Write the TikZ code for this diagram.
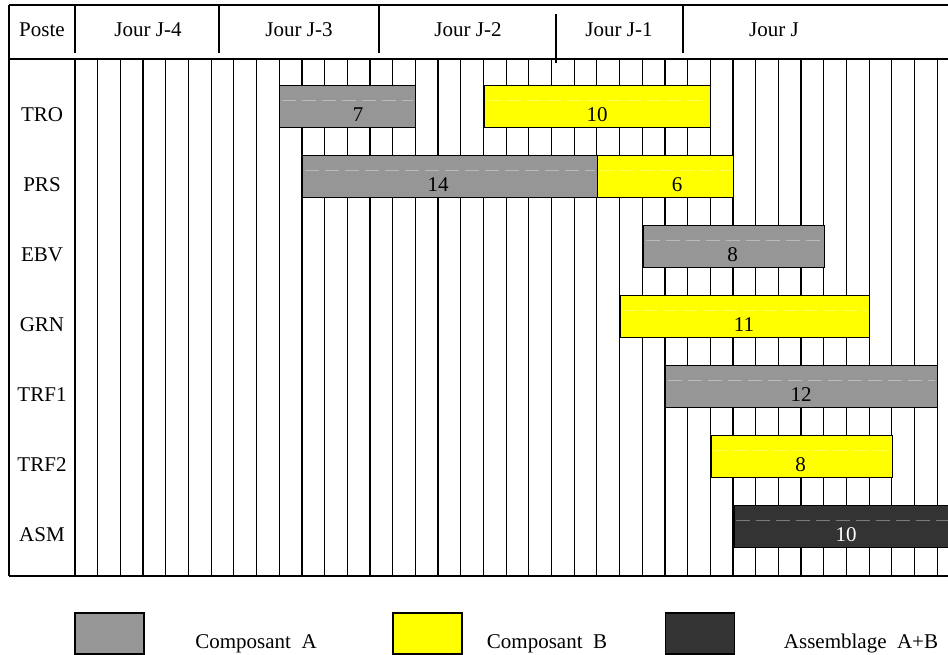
\documentclass[tikz,border=0pt]{standalone}
\usepackage{fontspec}
\setmainfont{Liberation Serif}
\definecolor{compA}{RGB}{150,150,150}
\definecolor{compB}{RGB}{255,255,0}
\definecolor{asmAB}{RGB}{51,51,51}
\begin{document}
\begin{tikzpicture}[x=1pt,y=-1pt,
  font=\fontsize{21}{25}\selectfont,
  rule/.style={line width=1.2pt, black},
  bar/.style={draw=black, line width=1.2pt, minimum height=42pt, inner sep=0pt, anchor=north west},
  streak/.style={white, opacity=0.35, line width=0.6pt, dash pattern=on 14pt off 6pt},
  txt/.style={anchor=base, inner sep=0pt},
  legbox/.style={draw=black, line width=1.5pt, minimum width=69pt, minimum height=41pt, inner sep=0pt, anchor=north west}]
\useasboundingbox (0,0) rectangle (948,654);

% grid
\foreach \k in {0,...,38}{
  \draw[rule] ({75+22.69*\k},59) -- ({75+22.69*\k},576);
}
% frame
\draw[rule] (9,5) -- (948,5);
\draw[rule] (9,59) -- (948,59);
\draw[rule] (9,576) -- (948,576);
\draw[rule] (9,5) -- (9,576);
% header separators
\draw[rule] (75,5) -- (75,53);
\draw[rule] (219,5) -- (219,53);
\draw[rule] (379,5) -- (379,53);
\draw[rule] (556,14) -- (556,63);
\draw[rule] (683,5) -- (683,53);

% header texts
\node[txt] (hposte) at (42,36) {Poste};
\node[txt] (hj4) at (148,36) {Jour J-4};
\node[txt] (hj3) at (299,36) {Jour J-3};
\node[txt] (hj2) at (468,36) {Jour J-2};
\node[txt] (hj1) at (619,36) {Jour J-1};
\node[txt] (hj0) at (774,36) {Jour J};

% row labels
\node[txt] (rtro) at (42,121.7) {TRO};
\node[txt] (rprs) at (42,191.7) {PRS};
\node[txt] (rebv) at (42,261.7) {EBV};
\node[txt] (rgrn) at (42,331.7) {GRN};
\node[txt] (rtrf1) at (42,401.7) {TRF1};
\node[txt] (rtrf2) at (42,471.7) {TRF2};
\node[txt] (rasm) at (42,541.7) {ASM};

% bars
\node[bar, fill=compA, minimum width=136pt] (troA) at (279,85) {};
\node[bar, fill=compB, minimum width=226pt] (troB) at (484,85) {};
\node[bar, fill=compA, minimum width=295.5pt] (prsA) at (301.7,155) {};
\node[bar, fill=compB, minimum width=136pt] (prsB) at (597.2,155) {};
\node[bar, fill=compA, minimum width=181pt] (ebvA) at (642.5,225) {};
\node[bar, fill=compB, minimum width=248.5pt] (grnB) at (620,295) {};
\node[bar, fill=compA, minimum width=272pt] (trf1A) at (665,365) {};
\node[bar, fill=compB, minimum width=181.5pt] (trf2B) at (710.3,435) {};
\node[bar, fill=asmAB, minimum width=220pt] (asmAB) at (733.3,505) {};

% faint streaks inside bars
\foreach \b in {troA,troB,prsA,prsB,ebvA,grnB,trf1A,trf2B,asmAB}{
  \draw[streak] ([xshift=3pt,yshift=-15.5pt]\b.north west) -- ([xshift=-3pt,yshift=-15.5pt]\b.north east);
}

% bar labels
\node[txt] (ltroA) at (358,121.7) {7};
\node[txt] (ltroB) at (597,121.7) {10};
\node[txt] (lprsA) at (438,191.7) {14};
\node[txt] (lprsB) at (677,191.7) {6};
\node[txt] (lebvA) at (732.5,261.7) {8};
\node[txt] (lgrnB) at (744,331.7) {11};
\node[txt] (ltrf1A) at (801,401.7) {12};
\node[txt] (ltrf2B) at (800.5,471.7) {8};
\node[txt, text=white] (lasm) at (846,541.7) {10};

% legend
\node[legbox, fill=compA] (legA) at (74,612) {};
\node[txt] (legAt) at (256,648) {Composant\ \ A};
\node[legbox, fill=compB] (legB) at (392,612) {};
\node[txt] (legBt) at (547,648) {Composant\ \ B};
\node[legbox, fill=asmAB] (legC) at (664.5,612) {};
\node[txt] (legCt) at (861,648) {Assemblage\ \ A+B};
\end{tikzpicture}
\end{document}
